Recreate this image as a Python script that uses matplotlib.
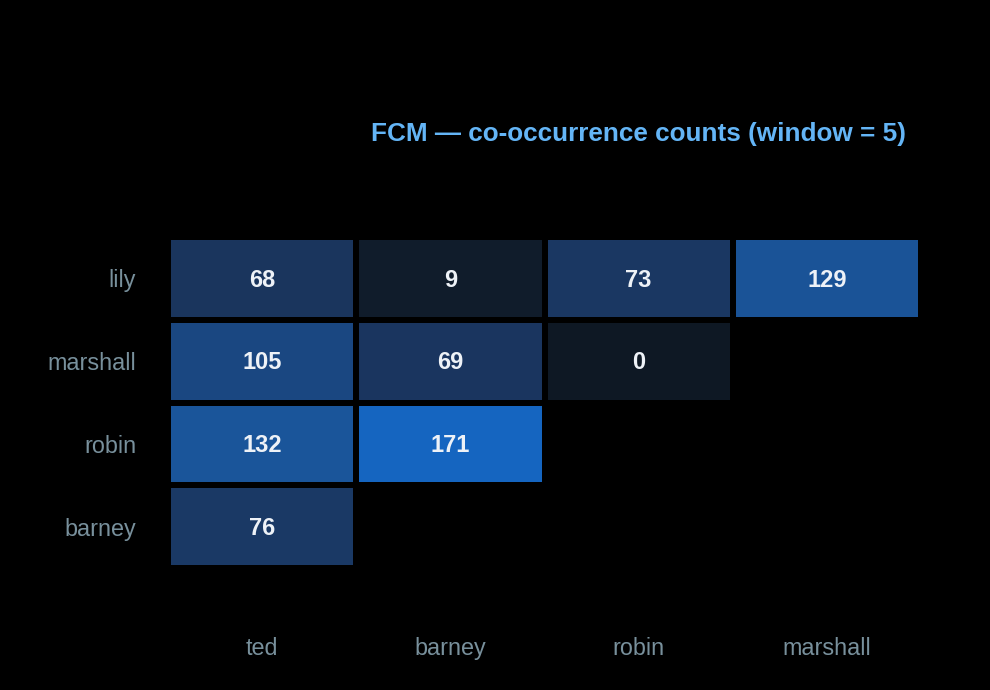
import numpy as np
import matplotlib.pyplot as plt
from matplotlib.colors import LinearSegmentedColormap

# Datos del heatmap
cols = ['ted', 'barney', 'robin', 'marshall']
rows = ['lily', 'marshall', 'robin', 'barney']
counts = [
    [68, 9, 73, 129],
    [105, 69, 0, None],
    [132, 171, None, None],
    [76, None, None, None],
]

vals = np.array([[np.nan if v is None else v for v in r] for r in counts], dtype=float)

plt.rcParams['font.family'] = ['Liberation Sans', 'DejaVu Sans']

cmap = LinearSegmentedColormap.from_list(
    'fcm', [(0, '#0e1824'), (0.4, '#1a355e'), (0.75, '#1a5396'), (1, '#1565c0')])

fig = plt.figure(figsize=(9.9, 6.9), dpi=100, facecolor='black')
ax = fig.add_axes([0.1697, 0.1768, 0.7606, 0.4797], facecolor='black')

masked = np.ma.masked_invalid(vals)
ax.pcolormesh(masked, cmap=cmap, vmin=0, vmax=171, edgecolors='black', linewidth=4)
ax.set_xlim(0, len(cols))
ax.set_ylim(len(rows), 0)

for i in range(len(rows)):
    for j in range(len(cols)):
        if not np.isnan(vals[i, j]):
            ax.text(j + 0.5, i + 0.52, f'{int(vals[i, j])}', ha='center', va='center',
                    color='#eef2f7', fontsize=17, fontweight='bold')

ax.set_xticks(np.arange(len(cols)) + 0.5)
ax.set_xticklabels(cols)
ax.set_yticks(np.arange(len(rows)) + 0.5)
ax.set_yticklabels(rows)
ax.tick_params(length=0, colors='#78909c', labelsize=16.8)
ax.tick_params(axis='x', pad=50)
ax.tick_params(axis='y', pad=23)
for s in ax.spines.values():
    s.set_visible(False)

fig.text(0.6445, 0.806, 'FCM — co-occurrence counts (window = 5)', ha='center', va='center',
         color='#64b5f6', fontsize=18.8, fontweight='bold')

fig.savefig('out.png', facecolor='black')
